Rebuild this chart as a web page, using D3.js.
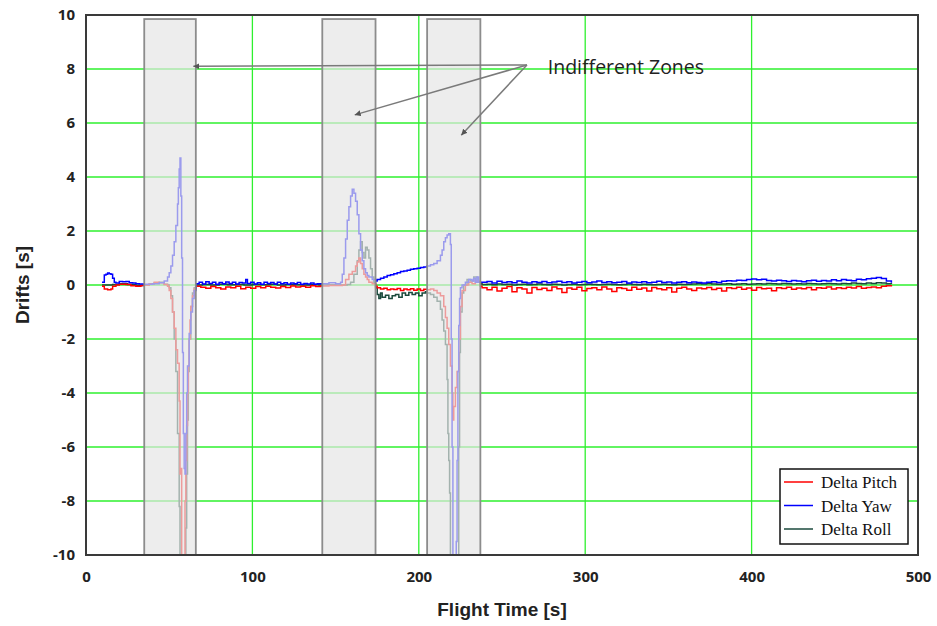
<!DOCTYPE html>
<html>
<head>
<meta charset="utf-8">
<script src="https://cdn.jsdelivr.net/npm/d3@7"></script>
<style>
  body { margin: 0; background: #fff; }
  svg { display: block; }
</style>
</head>
<body>
<div id="chart"></div>
<script>
// indifferent zones, [start, end] in seconds
let zones = [[35, 66], [142, 174], [205, 237]]

let xTicks = [0, 100, 200, 300, 400, 500]
let yTicks = [-10, -8, -6, -4, -2, 0, 2, 4, 6, 8, 10]

// first part of the flight (to end of last zone), [time, drift]
let pitchPts = [
  [9.6, -0.05], [11, -0.15], [13, -0.18], [15, -0.15], [16, -0.05], [18, 0.0], [20, 0.03], [24, 0.02],
  [27, -0.03], [30, -0.05], [33, -0.02], [35, 0.0], [38, 0.05], [41, 0.1], [44, 0.08], [47, 0.02],
  [49, -0.05], [50, -0.2], [51, -0.5], [52, -1.0], [53, -1.6], [54, -2.4], [55, -2.9], [56, -4.3],
  [56.5, -7.0], [57, -6.8], [57.5, -10.5], [59, -10.5], [59.5, -8], [60, -6.5], [60.5, -5.2],
  [61, -4], [61.5, -3], [62, -2], [62.5, -1.3], [63, -0.8], [64, -0.4], [65, -0.15], [66, -0.05],
  [69, -0.08], [72, -0.12], [75, -0.06], [78, -0.1], [81, -0.15], [84, -0.07], [87, -0.1], [90, -0.05],
  [93, -0.14], [96, -0.08], [99, -0.12], [102, -0.06], [105, -0.1], [108, -0.05], [111, -0.08],
  [114, -0.11], [117, -0.06], [120, -0.09], [123, -0.04], [126, -0.07], [129, -0.05], [132, -0.08],
  [135, -0.03], [138, -0.06], [141, -0.04], [146, -0.02], [150, -0.02], [154, 0.0], [156, 0.2],
  [158, 0.4], [160, 0.5], [162, 0.7], [163, 0.85], [164, 1.0], [165, 0.8], [166, 0.6], [167, 0.4],
  [168, 0.3], [169, 0.2], [170, 0.1], [172, 0.05], [174, -0.05], [175, -0.1], [177, -0.15],
  [179, -0.12], [181, -0.18], [183, -0.15], [185, -0.17], [187, -0.13], [189, -0.2], [191, -0.15],
  [193, -0.18], [195, -0.14], [197, -0.19], [199, -0.15], [201, -0.2], [203, -0.16], [205, -0.18],
  [207, -0.15], [209, -0.2], [211, -0.3], [213, -0.4], [215, -0.8], [216, -1.2], [217, -1.6],
  [218, -2.2], [219, -3.0], [220, -4.0], [220.5, -5.0], [221, -4.5], [222, -3.8], [223, -3.2],
  [224, -2.0], [225, -0.8], [226, -0.2], [228, 0.0], [230, 0.1], [232, 0.05], [234, 0.15],
  [236, 0.1], [237, -0.05]
]

let yawPts = [
  [9.6, 0.1], [11, 0.37], [12, 0.4], [13, 0.44], [14, 0.42], [15, 0.4], [16, 0.25], [17, 0.1],
  [18, 0.07], [20, 0.13], [22, 0.12], [24, 0.13], [26, 0.08], [28, 0.07], [30, 0.05], [32, 0.04],
  [35, 0.03], [40, 0.05], [44, 0.08], [47, 0.15], [49, 0.3], [50, 0.45], [51, 0.7], [52, 1.1],
  [53, 1.6], [54, 2.2], [55, 3.0], [55.5, 3.6], [56, 4.3], [56.5, 4.7], [57, 3.3], [57.5, 1.0],
  [58, -2.5], [58.5, -5.5], [59, -6.8], [59.5, -7.0], [60, -5.5], [60.5, -4.0], [61, -3.0],
  [62, -1.8], [63, -1.0], [64, -0.5], [65, -0.2], [66, 0.05], [68, 0.1], [70, 0.04], [72, 0.12],
  [74, 0.06], [76, 0.1], [78, 0.03], [80, 0.09], [82, 0.05], [84, 0.11], [86, 0.06], [88, 0.1],
  [90, 0.04], [92, 0.09], [94, 0.07], [96, 0.2], [97, 0.06], [99, 0.1], [101, 0.04], [103, 0.08],
  [105, 0.03], [107, 0.1], [109, 0.06], [111, 0.09], [113, 0.04], [115, 0.1], [117, 0.05],
  [119, 0.08], [121, 0.03], [123, 0.07], [125, 0.05], [127, 0.09], [129, 0.03], [131, 0.06],
  [133, 0.04], [135, 0.07], [137, 0.03], [139, 0.05], [142, 0.05], [146, 0.08], [150, 0.05],
  [153, 0.1], [154, 0.4], [155, 1.0], [156, 1.7], [157, 2.4], [158, 2.9], [159, 3.3], [160, 3.55],
  [161, 3.4], [162, 3.1], [163, 2.6], [164, 1.9], [165, 1.3], [166, 0.9], [167, 0.6], [168, 0.45],
  [169, 0.35], [170, 0.3], [172, 0.2], [174, 0.15], [175, 0.2], [177, 0.25], [179, 0.3], [181, 0.35],
  [183, 0.38], [185, 0.42], [187, 0.45], [189, 0.5], [191, 0.52], [193, 0.55], [195, 0.58],
  [197, 0.6], [199, 0.62], [201, 0.65], [203, 0.67], [205, 0.7], [207, 0.75], [209, 0.8], [211, 0.9],
  [213, 1.1], [214, 1.3], [215, 1.6], [216, 1.75], [217, 1.85], [218, 1.9], [219, 1.5], [219.5, -2],
  [220, -6], [220.5, -10.5], [222, -10.5], [222.5, -9.5], [223, -6.5], [223.5, -3.2], [224, -1.5],
  [224.5, -0.5], [225, -0.1], [226, 0.0], [228, 0.1], [230, 0.2], [232, 0.15], [233, 0.25],
  [234, 0.1], [235, 0.3], [236, 0.1], [237, 0.1]
]

let rollPts = [
  [9.6, 0.0], [12, 0.0], [16, 0.02], [20, 0.05], [25, 0.02], [30, -0.02], [35, 0.0], [38, 0.04],
  [41, 0.08], [44, 0.1], [47, 0.03], [49, 0.0], [50, -0.1], [51, -0.4], [52, -1.0], [53, -2.0],
  [54, -3.2], [55, -5.5], [56, -8.2], [56.5, -10.5], [59.5, -10.5], [60, -9], [60.5, -7], [61, -5],
  [61.5, -3.2], [62, -2], [63, -0.8], [64, -0.3], [65, -0.1], [66, 0.0], [70, 0.02], [75, 0.0],
  [80, 0.03], [85, 0.01], [90, 0.02], [95, 0.0], [100, 0.02], [105, 0.01], [110, 0.03], [115, 0.0],
  [120, 0.02], [125, 0.01], [130, 0.0], [135, 0.02], [140, 0.0], [145, 0.01], [150, 0.0],
  [157, 0.02], [159, 0.1], [161, 0.4], [163, 0.9], [164, 1.3], [165, 1.6], [166, 1.2], [167, 1.0],
  [168, 1.4], [169, 1.3], [170, 1.0], [171, 0.6], [172, 0.3], [173, 0.1], [174, -0.1], [175, -0.35],
  [176, -0.5], [177, -0.3], [178, -0.45], [180, -0.38], [182, -0.5], [184, -0.4], [186, -0.35],
  [188, -0.45], [190, -0.3], [192, -0.38], [194, -0.28], [196, -0.35], [198, -0.3], [200, -0.4],
  [202, -0.3], [204, -0.25], [205, -0.3], [207, -0.35], [209, -0.45], [211, -0.6], [213, -0.9],
  [214, -1.3], [215, -1.7], [216, -2.2], [217, -3.5], [217.5, -5.5], [218, -6.5], [218.5, -7.7],
  [219, -10.5], [223.5, -10.5], [224, -6], [224.5, -2.5], [225, -1], [226, -0.3], [227, 0.0],
  [229, 0.2], [231, 0.15], [233, 0.3], [235, 0.1], [237, 0.05]
]

// rest of the flight, one shared time column
let tailTime = [238, 241, 244, 247, 250, 253, 256, 259, 262, 265, 268, 271, 274, 277, 280, 283,
  286, 289, 292, 295, 298, 301, 304, 307, 310, 313, 316, 319, 322, 325, 328, 331, 334, 337, 340,
  343, 346, 349, 352, 355, 358, 361, 364, 367, 370, 373, 376, 379, 382, 385, 388, 391, 394, 397,
  400, 403, 406, 409, 412, 415, 418, 421, 424, 427, 430, 433, 436, 439, 442, 445, 448, 451, 454,
  457, 460, 463, 466, 469, 472, 475, 478, 481, 484]
let tailYaw = [0.1, 0.13, 0.07, 0.14, 0.09, 0.12, 0.08, 0.15, 0.1, 0.07, 0.12, 0.09, 0.13, 0.08,
  0.11, 0.14, 0.09, 0.12, 0.07, 0.1, 0.13, 0.08, 0.11, 0.15, 0.09, 0.12, 0.08, 0.1, 0.13, 0.07,
  0.11, 0.09, 0.12, 0.08, 0.1, 0.14, 0.09, 0.11, 0.07, 0.1, 0.12, 0.08, 0.11, 0.09, 0.07, 0.1,
  0.12, 0.09, 0.14, 0.16, 0.15, 0.18, 0.17, 0.2, 0.22, 0.19, 0.21, 0.17, 0.15, 0.18, 0.16, 0.13,
  0.17, 0.15, 0.12, 0.16, 0.18, 0.14, 0.17, 0.15, 0.19, 0.16, 0.2, 0.18, 0.16, 0.21, 0.19, 0.23,
  0.25, 0.28, 0.24, 0.15, 0.08]
let tailPitch = [-0.1, -0.18, -0.08, -0.22, -0.12, -0.06, -0.25, -0.1, -0.15, -0.3, -0.09, -0.17,
  -0.12, -0.2, -0.07, -0.14, -0.28, -0.11, -0.16, -0.08, -0.21, -0.13, -0.1, -0.18, -0.07, -0.15,
  -0.24, -0.1, -0.13, -0.19, -0.08, -0.16, -0.11, -0.22, -0.09, -0.14, -0.18, -0.1, -0.26, -0.12,
  -0.08, -0.15, -0.2, -0.11, -0.14, -0.09, -0.17, -0.12, -0.22, -0.1, -0.13, -0.08, -0.16, -0.11,
  -0.19, -0.09, -0.14, -0.12, -0.21, -0.1, -0.13, -0.08, -0.16, -0.11, -0.14, -0.09, -0.18, -0.1,
  -0.12, -0.07, -0.15, -0.1, -0.13, -0.08, -0.11, -0.06, -0.12, -0.09, -0.07, -0.1, -0.05, -0.03, 0.0]
let tailRoll = [0.02, 0.03, 0.01, 0.04, 0.02, 0.03, 0.0, 0.02, 0.03, 0.01, 0.02, 0.04, 0.02, 0.01,
  0.03, 0.02, 0.0, 0.02, 0.03, 0.01, 0.02, 0.03, 0.02, 0.01, 0.02, 0.03, 0.02, 0.01, 0.02, 0.04,
  0.02, 0.01, 0.03, 0.02, 0.01, 0.02, 0.03, 0.02, 0.01, 0.03, 0.02, 0.03, 0.04, 0.05, 0.04, 0.06,
  0.04, 0.03, 0.04, 0.05, 0.03, 0.04, 0.05, 0.03, 0.04, 0.05, 0.04, 0.06, 0.05, 0.04, 0.06, 0.05,
  0.04, 0.05, 0.04, 0.06, 0.05, 0.04, 0.05, 0.06, 0.05, 0.04, 0.06, 0.05, 0.07, 0.06, 0.05, 0.07,
  0.06, 0.08, 0.07, 0.05, 0.04]

let seriesNames = ['Delta Pitch', 'Delta Yaw', 'Delta Roll']
let seriesColors = ['#ff0000', '#0000ff', '#1b4a3c']

let width = 937
let height = 626
let margin = { top: 15, left: 86, right: 19, bottom: 71 }

let svg = d3.select('#chart')
  .append('svg')
  .attr('width', width)
  .attr('height', height)

let x = d3.scaleLinear().domain([0, 500]).range([margin.left, width - margin.right])
let y = d3.scaleLinear().domain([-10, 10]).range([height - margin.bottom, margin.top])

svg.append('defs')
  .append('clipPath')
  .attr('id', 'plot-clip')
  .append('rect')
  .attr('x', x(0))
  .attr('y', y(10))
  .attr('width', x(500) - x(0))
  .attr('height', y(-10) - y(10))

// grid
svg.append('g')
  .selectAll('line')
  .data(xTicks.slice(1, -1))
  .enter()
  .append('line')
  .attr('x1', d => x(d))
  .attr('x2', d => x(d))
  .attr('y1', y(-10))
  .attr('y2', y(10))
  .attr('stroke', '#2ef02e')
  .attr('stroke-width', 1.3)

svg.append('g')
  .selectAll('line')
  .data(yTicks.slice(1, -1))
  .enter()
  .append('line')
  .attr('x1', x(0))
  .attr('x2', x(500))
  .attr('y1', d => y(d))
  .attr('y2', d => y(d))
  .attr('stroke', '#2ef02e')
  .attr('stroke-width', 1.3)

// series
let joinTail = vals => tailTime.map((t, i) => [t, vals[i]])
let series = [
  { name: 'roll', pts: rollPts.concat(joinTail(tailRoll)), color: seriesColors[2] },
  { name: 'pitch', pts: pitchPts.concat(joinTail(tailPitch)), color: seriesColors[0] },
  { name: 'yaw', pts: yawPts.concat(joinTail(tailYaw)), color: seriesColors[1] }
]

let line = d3.line()
  .x(d => x(d[0]))
  .y(d => y(d[1]))
  .curve(d3.curveStepAfter)

svg.append('g')
  .attr('clip-path', 'url(#plot-clip)')
  .selectAll('path')
  .data(series)
  .enter()
  .append('path')
  .attr('d', d => line(d.pts))
  .attr('fill', 'none')
  .attr('stroke', d => d.color)
  .attr('stroke-width', 1.5)

// zones sit on top and wash out the lines underneath
svg.append('g')
  .selectAll('rect')
  .data(zones)
  .enter()
  .append('rect')
  .attr('x', d => x(d[0]))
  .attr('width', d => x(d[1]) - x(d[0]))
  .attr('y', y(9.85))
  .attr('height', y(-10) - y(9.85))
  .attr('fill', '#e4e4e4')
  .attr('fill-opacity', 0.68)
  .attr('stroke', '#8c8c8c')
  .attr('stroke-width', 1.8)

// frame
svg.append('rect')
  .attr('x', x(0))
  .attr('y', y(10))
  .attr('width', x(500) - x(0))
  .attr('height', y(-10) - y(10))
  .attr('fill', 'none')
  .attr('stroke', '#3a3a3a')
  .attr('stroke-width', 2)

// axes
let plain = d => String(d)

let yAxis = svg.append('g')
  .attr('transform', `translate(${x(0)},0)`)
  .call(d3.axisLeft(y).tickValues(yTicks).tickFormat(plain).tickSize(0).tickPadding(11))
yAxis.select('.domain').remove()

let xAxis = svg.append('g')
  .attr('transform', `translate(0,${y(-10)})`)
  .call(d3.axisBottom(x).tickValues(xTicks).tickFormat(plain).tickSize(0).tickPadding(16))
xAxis.select('.domain').remove()

svg.selectAll('.tick text')
  .attr('font-family', '"Open Sans", sans-serif')
  .attr('font-weight', 'bold')
  .attr('font-size', 15)
  .attr('fill', '#222')

svg.append('text')
  .text('Flight Time [s]')
  .attr('x', x(250))
  .attr('y', 616)
  .attr('text-anchor', 'middle')
  .attr('font-family', '"Liberation Sans", Arial, sans-serif')
  .attr('font-weight', 'bold')
  .attr('font-size', 19)
  .attr('fill', '#222')

svg.append('text')
  .text('Drifts [s]')
  .attr('transform', `translate(29,${y(0)}) rotate(-90)`)
  .attr('text-anchor', 'middle')
  .attr('font-family', '"Liberation Sans", Arial, sans-serif')
  .attr('font-weight', 'bold')
  .attr('font-size', 19)
  .attr('fill', '#222')

// annotation
svg.append('defs')
  .append('marker')
  .attr('id', 'arrow')
  .attr('viewBox', '0 -4 8 8')
  .attr('refX', 8)
  .attr('refY', 0)
  .attr('markerWidth', 6)
  .attr('markerHeight', 6)
  .attr('markerUnits', 'userSpaceOnUse')
  .attr('orient', 'auto')
  .append('path')
  .attr('d', 'M0,-4L8,0L0,4Z')
  .attr('fill', '#555')

let arrowFrom = [265, 8.15]
let arrowTo = [[64.5, 8.1], [161.5, 6.3], [225.5, 5.55]]

svg.append('g')
  .selectAll('line')
  .data(arrowTo)
  .enter()
  .append('line')
  .attr('x1', x(arrowFrom[0]))
  .attr('y1', y(arrowFrom[1]))
  .attr('x2', d => x(d[0]))
  .attr('y2', d => y(d[1]))
  .attr('stroke', '#7a7a7a')
  .attr('stroke-width', 1.5)
  .attr('marker-end', 'url(#arrow)')

svg.append('text')
  .text('Indifferent Zones')
  .attr('x', x(277.5))
  .attr('y', y(7.8))
  .attr('font-family', '"Open Sans", sans-serif')
  .attr('font-size', 19.5)
  .attr('fill', '#222')

// legend
let legend = svg.append('g').attr('transform', 'translate(780,469)')

legend.append('rect')
  .attr('width', 128)
  .attr('height', 75)
  .attr('fill', '#fff')
  .attr('stroke', '#111')
  .attr('stroke-width', 1.5)

let item = legend.selectAll('.item')
  .data(seriesNames)
  .enter()
  .append('g')
  .attr('class', 'item')
  .attr('transform', (d, i) => `translate(0,${13 + i * 23.5})`)

item.append('line')
  .attr('x1', 4)
  .attr('x2', 33)
  .attr('stroke', (d, i) => seriesColors[i])
  .attr('stroke-width', 1.5)

item.append('text')
  .text(d => d)
  .attr('x', 41)
  .attr('y', 6)
  .attr('font-family', '"Liberation Serif", "Times New Roman", serif')
  .attr('font-size', 17)
  .attr('fill', '#111')
</script>
</body>
</html>
